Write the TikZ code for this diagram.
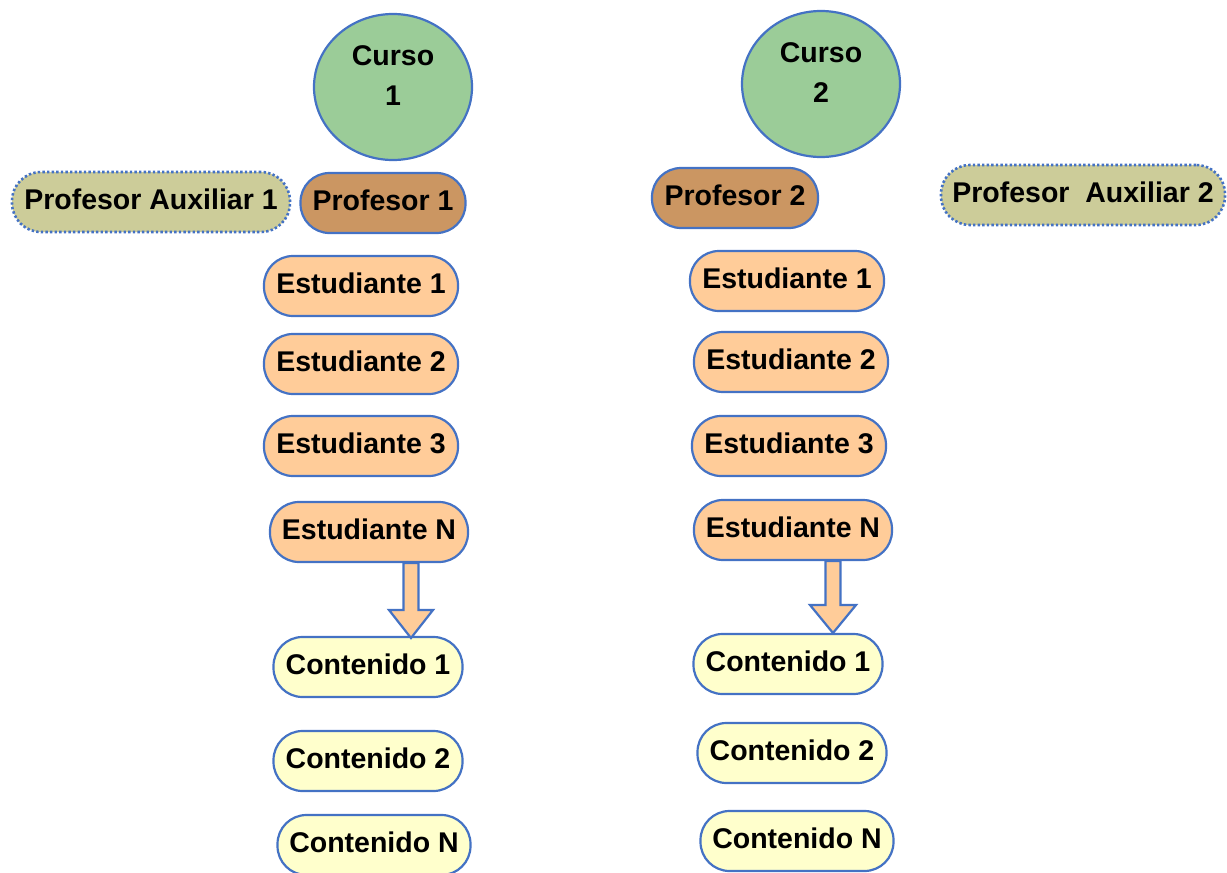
\documentclass[tikz,border=0pt]{standalone}
\usepackage{fontspec}
\setmainfont{Liberation Sans}
\usetikzlibrary{shapes.geometric,calc}
\definecolor{bord}{HTML}{4472C4}
\definecolor{cursofill}{HTML}{9BCC98}
\definecolor{proffill}{HTML}{CB9662}
\definecolor{auxfill}{HTML}{CCCC99}
\definecolor{estfill}{HTML}{FFCC99}
\definecolor{contfill}{HTML}{FFFFCC}
\tikzset{
  base/.style={draw=bord, line width=2.2pt, font=\bfseries\fontsize{28.5}{38}\selectfont, text=black, inner sep=0pt},
  pill/.style={base, rectangle, rounded corners=29pt, minimum height=60pt, text height=21pt, text depth=6pt},
  curso/.style={base, ellipse, fill=cursofill, minimum width=158pt, minimum height=146pt, align=center},
  prof/.style={pill, fill=proffill},
  aux/.style={pill, fill=auxfill, line width=2.6pt, dash pattern=on 2.4pt off 2.2pt},
  est/.style={pill, fill=estfill, minimum width=194pt},
  cont/.style={pill, fill=contfill, minimum width=189pt},
  blockarrow/.style={draw=bord, line width=2.2pt, fill=estfill, line join=miter}
}
\newcommand{\upby}[1]{\raisebox{9pt}[\height][\depth]{#1}}
\begin{document}
\begin{tikzpicture}[x=1pt,y=-1pt]
\useasboundingbox (0,0) rectangle (1227,873);
% Course 1
\node[curso] (c1) at (393,87) {\upby{\begin{tabular}{@{}c@{}}Curso\\[2pt]1\end{tabular}}};
\node[aux, minimum width=278pt] (pa1) at (151,202) {Profesor Auxiliar 1};
\node[prof, minimum width=165pt] (p1) at (383,203) {Profesor 1};
\node[est] (e11) at (361,286) {Estudiante 1};
\node[est] (e12) at (361,364) {Estudiante 2};
\node[est] (e13) at (361,446) {Estudiante 3};
\node[est, minimum width=198pt] (e1n) at (369,532) {Estudiante N};
\node[cont] (k11) at (368,667) {Contenido 1};
\node[cont] (k12) at (368,761) {Contenido 2};
\node[cont, minimum width=193pt] (k1n) at (374,845) {Contenido N};
% Course 2
\node[curso] (c2) at (821,84) {\upby{\begin{tabular}{@{}c@{}}Curso\\[2pt]2\end{tabular}}};
\node[prof, minimum width=166pt] (p2) at (735,198) {Profesor 2};
\node[aux, minimum width=284pt] (pa2) at (1083,195) {Profesor\ \ Auxiliar 2};
\node[est] (e21) at (787,281) {Estudiante 1};
\node[est] (e22) at (791,362) {Estudiante 2};
\node[est] (e23) at (789,446) {Estudiante 3};
\node[est, minimum width=198pt] (e2n) at (793,530) {Estudiante N};
\node[cont] (k21) at (788,664) {Contenido 1};
\node[cont] (k22) at (792,753) {Contenido 2};
\node[cont, minimum width=193pt] (k2n) at (797,841) {Contenido N};
% Block arrows
\coordinate (a1s) at ($(e1n.south)+(42,0)$);
\coordinate (a1t) at (411,638);
\draw[blockarrow] ($(a1s)+(-7.5,0)$) -- ($(a1s)+(7.5,0)$) -- (418.5,610) -- (433,610) -- (a1t) -- (389,610) -- (403.5,610) -- cycle;
\coordinate (a2s) at ($(e2n.south)+(40,0)$);
\coordinate (a2t) at (833,633);
\draw[blockarrow] ($(a2s)+(-7.5,0)$) -- ($(a2s)+(7.5,0)$) -- (840.5,605) -- (856,605) -- (a2t) -- (810,605) -- (825.5,605) -- cycle;
\end{tikzpicture}
\end{document}
